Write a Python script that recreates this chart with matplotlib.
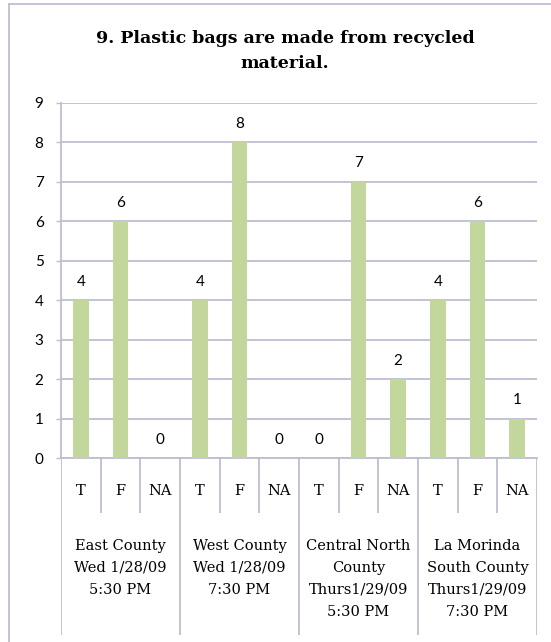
import matplotlib
matplotlib.use("Agg")
import matplotlib.pyplot as plt
from matplotlib.lines import Line2D

# ---- data ----
title = "9. Plastic bags are made from recycled\nmaterial."
answers = ["T", "F", "NA"]
groups = [
    "East County\nWed 1/28/09\n5:30 PM",
    "West County\nWed 1/28/09\n7:30 PM",
    "Central North\nCounty\nThurs1/29/09\n5:30 PM",
    "La Morinda\nSouth County\nThurs1/29/09\n7:30 PM",
]
east = [4, 6, 0]
west = [4, 8, 0]
central = [0, 7, 2]
morinda = [4, 6, 1]
yticks = list(range(0, 10))

series = [east, west, central, morinda]
values = [v for s in series for v in s]
cats = answers * len(groups)

W, H = 551, 642
BAR = "#C3D69B"
GRID = "#BDBFD0"
SERIF = "DejaVu Serif"
SANS = "Lato"

fig = plt.figure(figsize=(W / 100, H / 100), dpi=100)
fig.patch.set_facecolor("white")

# outer chart border (left and top visible)
fig.add_artist(Line2D([9 / W, 9 / W], [0, 1 - 4 / H], color=GRID, lw=1.3, transform=fig.transFigure))
fig.add_artist(Line2D([9 / W, 1], [1 - 4 / H, 1 - 4 / H], color=GRID, lw=1.3, transform=fig.transFigure))

# plot axes
x0, x1, ytop, ybot = 61, 537, 102.5, 458
ax = fig.add_axes([x0 / W, (H - ybot) / H, (x1 - x0) / W, (ybot - ytop) / H])
n = len(values)
xs = [i + 0.5 for i in range(n)]
ax.bar(xs, values, width=0.39, color=BAR, zorder=3)
ax.set_xlim(0, n)
ax.set_ylim(0, 9)
ax.set_yticks(yticks)
ax.set_yticklabels([str(t) for t in yticks], fontfamily=SANS, fontsize=11)
ax.tick_params(axis="y", length=3.6, width=1, color=GRID, pad=9, labelcolor="black")
ax.set_xticks([])
ax.grid(axis="y", color=GRID, lw=1.3, zorder=0)
for s in ("top", "right"):
    ax.spines[s].set_visible(False)
for s in ("left", "bottom"):
    ax.spines[s].set_color(GRID)
    ax.spines[s].set_linewidth(1.3)
for xv, v in zip(xs, values):
    ax.annotate(str(v), (xv, v), xytext=(0, 13), textcoords="offset points",
                ha="center", va="center", fontfamily=SANS, fontsize=11)

# category axis below
axb = fig.add_axes([x0 / W, 0, (x1 - x0) / W, (H - ybot) / H])
axb.set_xlim(0, n)
axb.set_ylim(H - ybot, 0)
axb.axis("off")
for i in range(n + 1):
    end = 177 if i % 3 == 0 else 55
    axb.plot([i, i], [0, end], color=GRID, lw=1.3, solid_capstyle="butt")
for xv, c in zip(xs, cats):
    axb.text(xv, 33, c, ha="center", va="center", fontfamily=SERIF, fontsize=10.5)
for gi, g in enumerate(groups):
    axb.text(gi * 3 + 1.5, 81, g, ha="center", va="top", fontfamily=SERIF,
             fontsize=10.5, linespacing=1.72)

# title, one line of text per baseline
for li, line in enumerate(title.split("\n")):
    fig.text(285 / W, 1 - (42.7 + 25.6 * li) / H, line, ha="center", va="baseline",
             fontfamily=SERIF, fontweight="bold", fontsize=12.5)

fig.savefig("out.png", dpi=100, facecolor="white")
